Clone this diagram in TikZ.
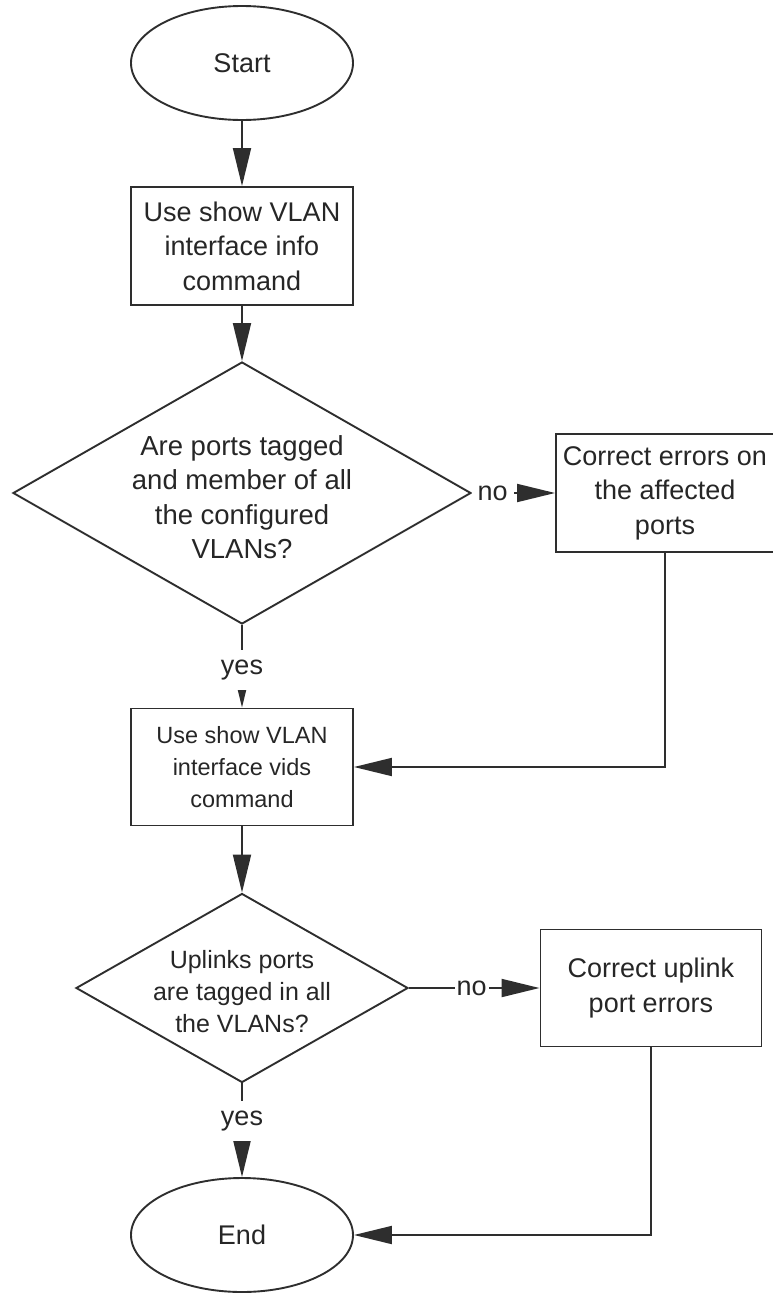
\documentclass[tikz,border=0pt]{standalone}
\usepackage{fontspec}
\setmainfont{Liberation Sans}
\usetikzlibrary{shapes.geometric,arrows.meta}
\definecolor{linecol}{HTML}{2E2E2E}
\definecolor{textcol}{HTML}{262626}
\begin{document}
\begin{tikzpicture}[x=1pt,y=-1pt,
  base/.style={draw=linecol, line width=1.9pt, text=textcol, align=center, inner sep=0pt,
    font=\fontsize{27}{34.5}\selectfont},
  term/.style={base, ellipse, minimum width=222pt, minimum height=114pt},
  proc/.style={base, rectangle, minimum width=222pt, minimum height=118pt},
  dec/.style={base, diamond},
  dtxt/.style={text=textcol, align=center, inner sep=0pt},
  lbl/.style={fill=white, text=textcol, inner xsep=2pt, inner ysep=3pt,
    font=\fontsize{27}{30}\selectfont},
  ylbl/.style={lbl, inner ysep=10pt},
  arr/.style={draw=linecol, line width=1.9pt, -{Triangle[length=38pt,width=18pt]}}
]
\useasboundingbox (0,0) rectangle (772,1293);

\node[term] (start) at (242,63) {Start};
\node[proc] (b1) at (242,246) {Use show VLAN\\interface info\\command};
\node[dec, minimum width=458pt, minimum height=262pt] (d1) at (242,493) {};
\node[dtxt, font=\fontsize{27.5}{34.5}\selectfont] (d1t) at (242,497)
  {Are ports tagged\\and member of all\\the configured\\VLANs?};
\node[proc, minimum width=218pt, minimum height=118pt] (b2) at (665,493)
  {Correct errors on\\the affected\\ports};
\node[proc, minimum height=117pt, font=\fontsize{23.5}{32}\selectfont] (b3) at (242,767)
  {Use show VLAN\\interface vids\\command};
\node[dec, minimum width=332pt, minimum height=189pt] (d2) at (242,988) {};
\node[dtxt, font=\fontsize{25}{32}\selectfont] (d2t) at (242,992)
  {Uplinks ports\\are tagged in all\\the VLANs?};
\node[proc, minimum width=221pt, minimum height=117pt] (b4) at (651,988)
  {Correct uplink\\port errors};
\node[term] (end) at (242,1235) {End};

\draw[arr] (start) -- (b1);
\draw[arr] (b1) -- (d1);
\draw[arr] (d1) -- node[lbl, inner xsep=6pt, pos=0.25] {no} (b2);
\draw[arr] (b2.south) |- (b3.east);
\draw[arr] (d1) -- node[ylbl, pos=0.55] {yes} (b3);
\draw[arr] (b3) -- (d2);
\draw[arr] (d2) -- node[lbl, pos=0.48] {no} (b4);
\draw[arr] (b4.south) |- (end.east);
\draw[arr] (d2) -- node[ylbl, pos=0.40] {yes} (end);
\end{tikzpicture}
\end{document}
